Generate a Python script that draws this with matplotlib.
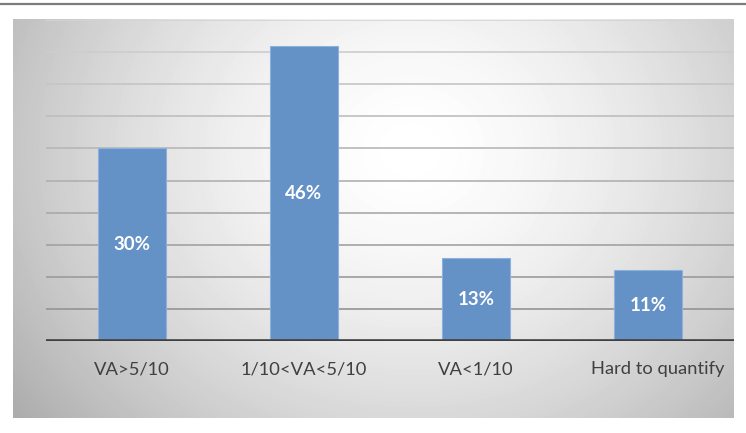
import numpy as np
import matplotlib.pyplot as plt
import matplotlib.transforms as mtransforms

categories = ["VA>5/10", "1/10<VA<5/10", "VA<1/10", "Hard to quantify"]
shares = [30, 46, 13, 11]
value_labels = ["30%", "46%", "13%", "11%"]
grid_ticks = [5, 10, 15, 20, 25, 30, 35, 40, 45, 50]

W, H = 746, 433
fig = plt.figure(figsize=(W / 100, H / 100), dpi=100)
fig.patch.set_facecolor("white")

# thin rule across the top of the image
fig.add_artist(plt.Line2D([0, 1], [1 - 3.5 / H, 1 - 3.5 / H], color="#7c7c7c", lw=1.6))

# grey radial gradient panel behind the chart
px0, px1, py0, py1 = 13, 734, 19, 418
bg = fig.add_axes([px0 / W, 1 - py1 / H, (px1 - px0) / W, (py1 - py0) / H], zorder=0)
xx, yy = np.meshgrid(np.arange(px0, px1), np.arange(py0, py1))
r = np.sqrt(((xx - 410) / 390.0) ** 2 + ((yy - 150) / 340.0) ** 2)
shade = 1 - 0.22 * r ** 1.6
bg.imshow(shade, cmap="gray", vmin=0, vmax=1, aspect="auto", interpolation="bilinear")
bg.axis("off")

ax = fig.add_axes([46 / W, 1 - 341 / H, (734 - 46) / W, (341 - 20) / H], zorder=1)
ax.set_facecolor("none")

x = np.arange(len(categories))
ax.set_xlim(-0.5, len(categories) - 0.5)
ax.set_ylim(0, 50)

# gridlines get darker toward the bottom
for i, t in enumerate(grid_ticks):
    g = 0.58 + 0.25 * i / (len(grid_ticks) - 1)
    ax.axhline(t, color=str(g), lw=1.2, zorder=1)

bars = ax.bar(x, shares, width=0.39, color="#6491c6", edgecolor="#8db1de", linewidth=0.8, zorder=2)
ax.axhline(0, color="#404040", lw=2.6, zorder=3)

for b, lab in zip(bars, value_labels):
    ax.text(b.get_x() + b.get_width() / 2, b.get_height() / 2, lab, ha="center", va="center",
            color="white", fontsize=13.5, fontweight="bold", family="Lato", zorder=4)

# category labels (the last one sits a bit to the right, like in the original)
base = ax.get_xaxis_transform()
for i, cat in enumerate(categories):
    tr = base
    if i == len(categories) - 1:
        tr = base + mtransforms.ScaledTranslation(0.10, 0, fig.dpi_scale_trans)
    ax.text(x[i], -0.088, cat, transform=tr, ha="center", va="center",
            fontsize=13.2, color="#404040", family="Lato")

ax.set_xticks([])
ax.set_yticks([])
for s in ax.spines.values():
    s.set_visible(False)

fig.savefig("out.png", dpi=100)
